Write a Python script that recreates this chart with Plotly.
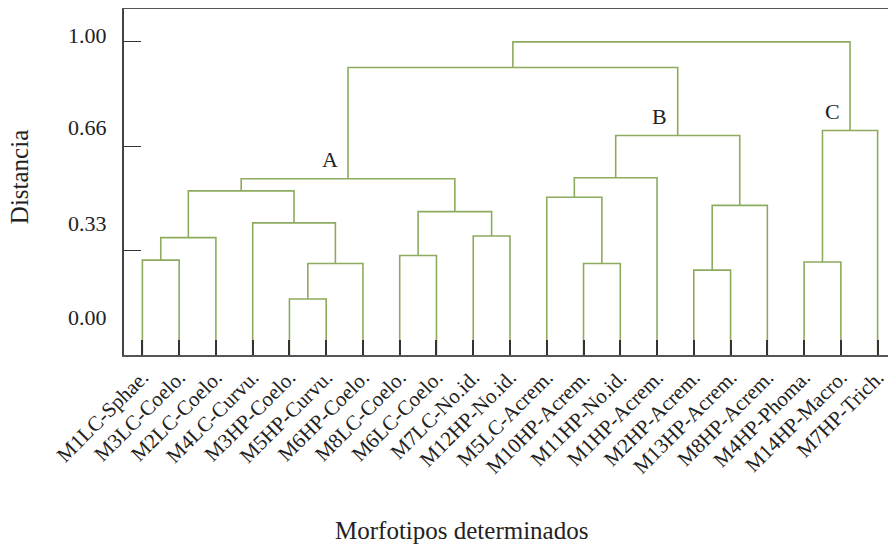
import plotly.graph_objects as go

# ---------------- data ----------------
labels = ["M1LC-Sphae.", "M3LC-Coelo.", "M2LC-Coelo.", "M4LC-Curvu.", "M3HP-Coelo.",
          "M5HP-Curvu.", "M6HP-Coelo.", "M8LC-Coelo.", "M6LC-Coelo.", "M7LC-No.id.",
          "M12HP-No.id.", "M5LC-Acrem.", "M10HP-Acrem.", "M11HP-No.id.", "M1HP-Acrem.",
          "M2HP-Acrem.", "M13HP-Acrem.", "M8HP-Acrem.", "M4HP-Phoma.", "M14HP-Macro.",
          "M7HP-Trich."]

# linkage (scipy style): cluster ids start at len(labels)
merge_left = [4, 21, 3, 0, 24, 25, 7, 9, 27, 26, 12, 11, 32, 15, 34, 33, 30, 18, 38, 37]
merge_right = [5, 6, 22, 1, 2, 23, 8, 10, 28, 29, 13, 31, 14, 16, 17, 35, 36, 19, 20, 39]
merge_height = [0.179, 0.292, 0.422, 0.303, 0.375, 0.524, 0.318, 0.380, 0.458, 0.563,
                0.292, 0.504, 0.566, 0.271, 0.478, 0.701, 0.918, 0.297, 0.717, 1.0]

# group labels: (cluster id, text)
group_nodes = [30, 36, 39]
group_text = ["A", "B", "C"]

# y tick marks and the (offset) tick labels as printed in the original
ytick_vals = [1.0, 2 / 3, 1 / 3]
ylabel_text = ["1.00", "0.66", "0.33", "0.00"]
ylabel_pos = [1.020, 0.725, 0.4195, 0.121]

# ---------------- build dendrogram ----------------
n = len(labels)
node_x = {i: float(i) for i in range(n)}
node_h = {i: 0.0 for i in range(n)}
xs, ys = [], []
for k, (a, b, h) in enumerate(zip(merge_left, merge_right, merge_height)):
    cid = n + k
    node_x[cid] = (node_x[a] + node_x[b]) / 2
    node_h[cid] = h
    xs += [node_x[a], node_x[a], node_x[b], node_x[b], None]
    ys += [node_h[a], h, h, node_h[b], None]

GREEN = "#8dab5e"
FONT = "Liberation Serif"

fig = go.Figure()
fig.add_trace(go.Scatter(x=xs, y=ys, mode="lines",
                         line=dict(color=GREEN, width=1.6),
                         hoverinfo="skip", showlegend=False))

annotations = []
for cid, t in zip(group_nodes, group_text):
    annotations.append(dict(x=node_x[cid], y=node_h[cid], xref="x", yref="y", text=t,
                            showarrow=False, xshift=-18, yshift=19,
                            font=dict(family=FONT, size=22, color="#222")))
for t, p in zip(ylabel_text, ylabel_pos):
    annotations.append(dict(x=0, y=p, xref="paper", yref="y", text=t, showarrow=False,
                            xanchor="right", yanchor="middle", xshift=-15,
                            font=dict(family=FONT, size=22, color="#222")))
annotations.append(dict(x=-0.136, y=0.514, xref="paper", yref="paper",
                        text="Distancia", textangle=-90, showarrow=False,
                        xanchor="center", yanchor="middle",
                        font=dict(family=FONT, size=25, color="#222")))
annotations.append(dict(x=0.4378, y=-0.506, xref="paper", yref="paper",
                        text="Morfotipos determinados", showarrow=False,
                        xanchor="center", yanchor="middle",
                        font=dict(family=FONT, size=25, color="#222")))

fig.update_layout(
    width=888, height=536,
    margin=dict(l=116, r=0, t=1, b=189),
    plot_bgcolor="white", paper_bgcolor="white",
    xaxis=dict(range=[-0.5, n - 0.5], tickmode="array", tickvals=list(range(n)),
               ticktext=labels, tickangle=-45, ticks="inside", ticklen=15,
               tickwidth=1.5, tickcolor="#333", showline=True, linecolor="#555",
               linewidth=1.5, mirror=True, showgrid=False, zeroline=False,
               tickfont=dict(family=FONT, size=21, color="#222")),
    yaxis=dict(range=[0, 1.105], tickmode="array", tickvals=ytick_vals,
               showticklabels=False, ticks="inside", ticklen=17, tickwidth=1.2,
               tickcolor="#333", showline=True, linecolor="#444", linewidth=1.5,
               showgrid=False, zeroline=False),
    annotations=annotations,
)

fig.write_html("out.html")
